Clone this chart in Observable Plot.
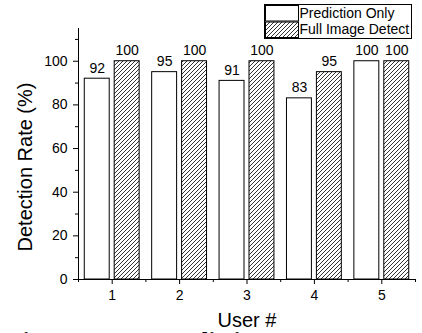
<!DOCTYPE html>
<html><head><meta charset="utf-8">
<script src="https://cdn.jsdelivr.net/npm/d3@7"></script>
<script src="https://cdn.jsdelivr.net/npm/@observablehq/plot@0.6"></script>
<style>
html,body{margin:0;padding:0;background:#fff;}
#wrap{position:relative;width:422px;height:333px;overflow:hidden;font-family:"Liberation Sans",Arial,sans-serif;}
#wrap svg{display:block;}
#legend{position:absolute;left:264px;top:4px;}
#caption{position:absolute;left:8px;top:328px;font-family:"Liberation Serif","Times New Roman",serif;font-weight:bold;font-size:24px;line-height:24px;word-spacing:20px;white-space:nowrap;color:#000;}
</style></head><body><div id="wrap"></div>
<script>
const users = [1, 2, 3, 4, 5];
const series = ["Prediction Only", "Full Image Detect"];
const predictionOnly = [92, 95, 91, 83, 100];
const fullImageDetect = [100, 100, 100, 95, 100];
const yTicks = [0, 20, 40, 60, 80, 100];
const yMinorTicks = [10, 30, 50, 70, 90, 110];
const xMinorTicks = [0.5, 1.5, 2.5, 3.5, 4.5, 5.5];
const yTitle = "Detection Rate (%)";
const xTitle = "User #";
const caption = "Figure 20: Prediction Accuracy and";

const rows = [];
users.forEach((u, i) => {
  rows.push({user: u, series: series[0], value: predictionOnly[i], side: -1});
  rows.push({user: u, series: series[1], value: fullImageDetect[i], side: 1});
});
const barW = 0.37, gap = 0.037;
const x1 = d => d.side < 0 ? d.user - gap - barW : d.user + gap;
const x2 = d => x1(d) + barW;
const xm = d => x1(d) + barW / 2;

const ns = "http://www.w3.org/2000/svg";
function hatchDefs(id) {
  const defs = document.createElementNS(ns, "defs");
  const p = document.createElementNS(ns, "pattern");
  p.setAttribute("id", id);
  p.setAttribute("patternUnits", "userSpaceOnUse");
  p.setAttribute("width", 4);
  p.setAttribute("height", 4);
  const bg = document.createElementNS(ns, "rect");
  bg.setAttribute("width", 4); bg.setAttribute("height", 4); bg.setAttribute("fill", "white");
  p.appendChild(bg);
  const path = document.createElementNS(ns, "path");
  path.setAttribute("d", "M-1,1 l2,-2 M0,4 l4,-4 M3,5 l2,-2");
  path.setAttribute("stroke", "black");
  path.setAttribute("stroke-width", 0.8);
  p.appendChild(path);
  defs.appendChild(p);
  return defs;
}

const chart = Plot.plot({
  width: 422, height: 330,
  marginLeft: 78, marginRight: 7, marginTop: 28, marginBottom: 51,
  x: {type: "linear", domain: [0.5, 5.5]},
  y: {domain: [0, 115]},
  style: {fontFamily: '"Liberation Sans", Arial, sans-serif', fontSize: "14px", color: "black", background: "white"},
  marks: [
    Plot.rect(rows.filter(d => d.side < 0), {x1, x2, y1: 0, y2: "value", fill: "white", stroke: "black", strokeWidth: 1}),
    Plot.rect(rows.filter(d => d.side > 0), {x1, x2, y1: 0, y2: "value", fill: "url(#hatch)", stroke: "black", strokeWidth: 1}),
    Plot.text(rows, {x: xm, y: "value", text: d => String(d.value), dy: -10.5, lineAnchor: "middle", fontSize: 14}),
    Plot.ruleX([0.5], {stroke: "black", strokeWidth: 1}),
    Plot.ruleY([0], {stroke: "black", strokeWidth: 1}),
    Plot.axisY(yTicks, {tickSize: 5, tickPadding: 6, fontSize: 14, label: null, strokeWidth: 1}),
    Plot.axisY(yMinorTicks, {tickSize: 3, tickFormat: () => "", label: null, strokeWidth: 1}),
    Plot.axisX(users, {tickSize: 5, tickPadding: 6, fontSize: 14, label: null, strokeWidth: 1}),
    Plot.axisX(xMinorTicks, {tickSize: 3, tickFormat: () => "", label: null, strokeWidth: 1}),
    Plot.text([yTitle], {frameAnchor: "left", text: d => d, rotate: -90, dx: -53, dy: 13, fontSize: 20, lineAnchor: "middle", textAnchor: "middle"}),
    Plot.text([xTitle], {frameAnchor: "bottom", text: d => d, dy: 41, fontSize: 20, lineAnchor: "middle", textAnchor: "middle"})
  ]
});
chart.insertBefore(hatchDefs("hatch"), chart.firstChild);

const wrap = document.getElementById("wrap");
wrap.appendChild(chart);

// legend
const lg = d3.create("svg").attr("id", "legend").attr("width", 149).attr("height", 36);
lg.append(() => hatchDefs("hatchL"));
lg.append("rect").attr("x", 0.5).attr("y", 0.5).attr("width", 147).attr("height", 34).attr("fill", "white").attr("stroke", "black");
series.forEach((s, i) => {
  lg.append("rect").attr("x", 1.5).attr("y", 1.5 + i * 16.5).attr("width", 33).attr("height", 15.5)
    .attr("fill", i === 0 ? "white" : "url(#hatchL)").attr("stroke", "black");
  lg.append("text").attr("x", 35.5).attr("y", 13.5 + i * 16.5).attr("font-size", 14)
    .attr("font-family", '"Liberation Sans", Arial, sans-serif').attr("fill", "black").text(s);
});
wrap.appendChild(lg.node());

const cap = document.createElement("div");
cap.id = "caption";
cap.textContent = caption;
wrap.appendChild(cap);
</script>
</body></html>
